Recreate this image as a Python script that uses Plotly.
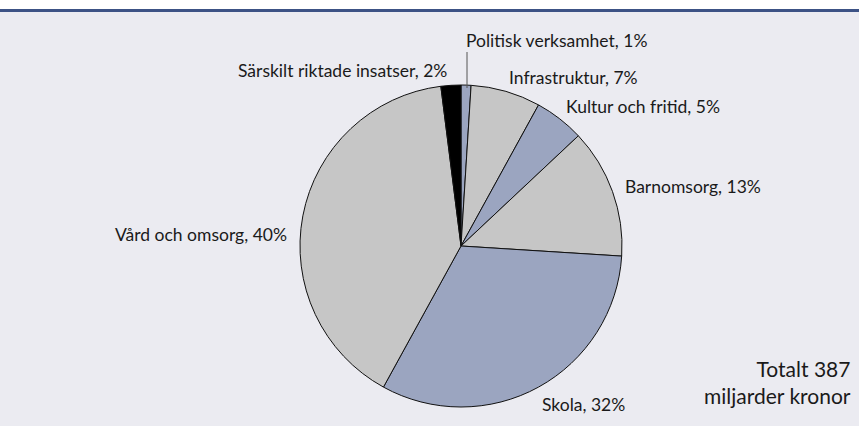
import plotly.graph_objects as go

labels = ["Politisk verksamhet", "Infrastruktur", "Kultur och fritid", "Barnomsorg",
          "Skola", "Vård och omsorg", "Särskilt riktade insatser"]
values = [1, 7, 5, 13, 32, 40, 2]
total_text = "Totalt 387<br>miljarder kronor"

W, H = 859, 426
BLUE = "#9ba5c0"
GRAY = "#c6c6c6"
colors = [BLUE, GRAY, BLUE, GRAY, BLUE, GRAY, "#000000"]
FONT = "Lato, sans-serif"

def px(x):
    return x / W

def py(y):
    return 1 - y / H

fig = go.Figure(go.Pie(
    labels=labels, values=values, sort=False, direction="clockwise", rotation=0,
    marker=dict(colors=colors, line=dict(color="#111111", width=1)),
    textinfo="none", hoverinfo="label+percent",
    domain=dict(x=[px(300), px(622)], y=[py(407), py(85)]),
    showlegend=False,
))

# label positions (pixels), anchor
label_pos = [
    (464, 41, "left"),
    (507, 78, "left"),
    (564, 107, "left"),
    (623, 186, "left"),
    (540, 404, "left"),
    (113, 234, "left"),
    (449, 70, "right"),
]
font = dict(family=FONT, size=17.5, color="#1a1a1a")
annotations = []
for (lab, val), (x, y, anc) in zip(zip(labels, values), label_pos):
    annotations.append(dict(x=px(x), y=py(y), xref="paper", yref="paper",
                            text=f"{lab}, {val}%", showarrow=False,
                            xanchor=anc, yanchor="middle", font=font))
annotations.append(dict(x=px(853), y=py(382), xref="paper", yref="paper",
                        text=total_text, showarrow=False, xanchor="right",
                        yanchor="middle", align="right",
                        font=dict(family=FONT, size=21, color="#1a1a1a")))

shapes = [
    dict(type="rect", xref="paper", yref="paper", x0=0, x1=1, y0=0, y1=py(12),
         fillcolor="#ebebf1", line=dict(width=0), layer="below"),
    dict(type="line", xref="paper", yref="paper", x0=0, x1=1, y0=py(10.5), y1=py(10.5),
         line=dict(color="#3c5285", width=3)),
    dict(type="line", xref="paper", yref="paper", x0=px(467), x1=px(467), y0=py(52), y1=py(88),
         line=dict(color="#555555", width=1)),
]

fig.update_layout(
    width=W, height=H, margin=dict(l=0, r=0, t=0, b=0),
    paper_bgcolor="#ffffff", plot_bgcolor="#ffffff",
    annotations=annotations, shapes=shapes,
)
fig.write_html("out.html", config={"displayModeBar": False},
               post_script="document.body.style.margin='0';")
